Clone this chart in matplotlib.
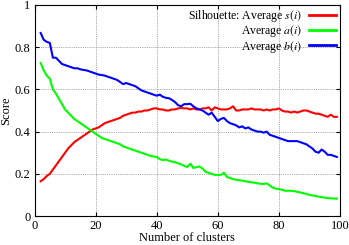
import numpy as np
import matplotlib
matplotlib.use("Agg")
import matplotlib.pyplot as plt

plt.rcParams['font.family'] = ['Liberation Serif', 'DejaVu Serif']
plt.rcParams['mathtext.fontset'] = 'stix'

# number of clusters
clusters = np.arange(2, 100)

# average silhouette s(i)
avg_s = [0.165, 0.175, 0.19, 0.20, 0.22, 0.24, 0.26, 0.28, 0.30, 0.32,
         0.335, 0.35, 0.36, 0.37, 0.38, 0.39, 0.40, 0.41, 0.415, 0.42,
         0.43, 0.44, 0.445, 0.45, 0.455, 0.46, 0.465, 0.475, 0.48, 0.485,
         0.49, 0.49, 0.495, 0.495, 0.50, 0.50, 0.505, 0.51, 0.51, 0.505,
         0.505, 0.50, 0.50, 0.505, 0.505, 0.51, 0.512, 0.51, 0.51, 0.505,
         0.51, 0.505, 0.505, 0.51, 0.51, 0.515, 0.50, 0.515, 0.51, 0.505,
         0.505, 0.505, 0.51, 0.52, 0.50, 0.50, 0.505, 0.505, 0.505, 0.51,
         0.505, 0.505, 0.505, 0.50, 0.505, 0.50, 0.505, 0.505, 0.51, 0.50,
         0.495, 0.495, 0.49, 0.495, 0.49, 0.495, 0.50, 0.50, 0.495, 0.49,
         0.485, 0.485, 0.48, 0.475, 0.47, 0.48, 0.47, 0.47]

# average a(i)
avg_a = [0.725, 0.69, 0.665, 0.65, 0.60, 0.58, 0.555, 0.53, 0.505, 0.49,
         0.475, 0.46, 0.45, 0.44, 0.43, 0.42, 0.41, 0.40, 0.39, 0.38,
         0.37, 0.365, 0.36, 0.355, 0.35, 0.345, 0.34, 0.33, 0.325, 0.32,
         0.315, 0.31, 0.305, 0.30, 0.295, 0.29, 0.285, 0.282, 0.28, 0.27,
         0.265, 0.268, 0.262, 0.258, 0.255, 0.25, 0.245, 0.238, 0.232, 0.248,
         0.228, 0.232, 0.235, 0.225, 0.21, 0.205, 0.20, 0.195, 0.195, 0.195,
         0.205, 0.185, 0.18, 0.175, 0.172, 0.17, 0.168, 0.165, 0.162, 0.16,
         0.158, 0.155, 0.153, 0.152, 0.155, 0.145, 0.135, 0.13, 0.128, 0.125,
         0.12, 0.12, 0.12, 0.118, 0.115, 0.112, 0.108, 0.105, 0.10, 0.098,
         0.095, 0.092, 0.09, 0.087, 0.085, 0.084, 0.083, 0.083]

# average b(i)
avg_b = [0.867, 0.835, 0.825, 0.82, 0.75, 0.75, 0.735, 0.72, 0.715, 0.71,
         0.705, 0.70, 0.70, 0.695, 0.692, 0.69, 0.685, 0.68, 0.675, 0.67,
         0.668, 0.665, 0.66, 0.655, 0.65, 0.645, 0.635, 0.625, 0.63, 0.625,
         0.62, 0.615, 0.605, 0.595, 0.59, 0.585, 0.58, 0.575, 0.57, 0.575,
         0.565, 0.56, 0.558, 0.55, 0.54, 0.525, 0.52, 0.53, 0.53, 0.532,
         0.52, 0.51, 0.505, 0.50, 0.49, 0.48, 0.49, 0.47, 0.45, 0.46,
         0.465, 0.45, 0.44, 0.435, 0.43, 0.42, 0.425, 0.415, 0.42, 0.41,
         0.405, 0.40, 0.40, 0.395, 0.40, 0.385, 0.38, 0.375, 0.37, 0.365,
         0.36, 0.355, 0.355, 0.355, 0.355, 0.35, 0.345, 0.34, 0.33, 0.32,
         0.305, 0.30, 0.315, 0.305, 0.29, 0.29, 0.285, 0.28]

xticks = [0, 20, 40, 60, 80, 100]
yticks = [0, 0.2, 0.4, 0.6, 0.8, 1]
ytick_labels = ['0', '0.2', '0.4', '0.6', '0.8', '1']

fig = plt.figure(figsize=(3.49, 2.45), dpi=100)
ax = fig.add_axes([0.099, 0.118, 0.875, 0.862])

ax.plot(clusters, avg_s, color='#ff0000', lw=1.5, label='Silhouette: Average $s(i)$')
ax.plot(clusters, avg_a, color='#00ff00', lw=1.5, label='Average $a(i)$')
ax.plot(clusters, avg_b, color='#0000ff', lw=1.5, label='Average $b(i)$')

ax.set_xlim(0, 100)
ax.set_ylim(0, 1)
ax.set_xticks(xticks)
ax.set_yticks(yticks)
ax.set_yticklabels(ytick_labels)
ax.tick_params(direction='in', top=True, right=True, length=3, labelsize=9, pad=3)
ax.grid(True, color='#909090', linestyle=(0, (1, 1.2)), lw=0.6)
for sp in ax.spines.values():
    sp.set_linewidth(0.8)

ax.set_xlabel('Number of clusters', fontsize=9, labelpad=0)
ax.set_ylabel('Score', fontsize=9, labelpad=2)

leg = ax.legend(loc='upper right', fontsize=8.5, markerfirst=False, frameon=False,
                handlelength=2.3, handletextpad=0.6, labelspacing=-0.08,
                borderaxespad=0.3, borderpad=0.0)
for line in leg.get_lines():
    line.set_linewidth(2)

fig.savefig('out.png', dpi=100)
